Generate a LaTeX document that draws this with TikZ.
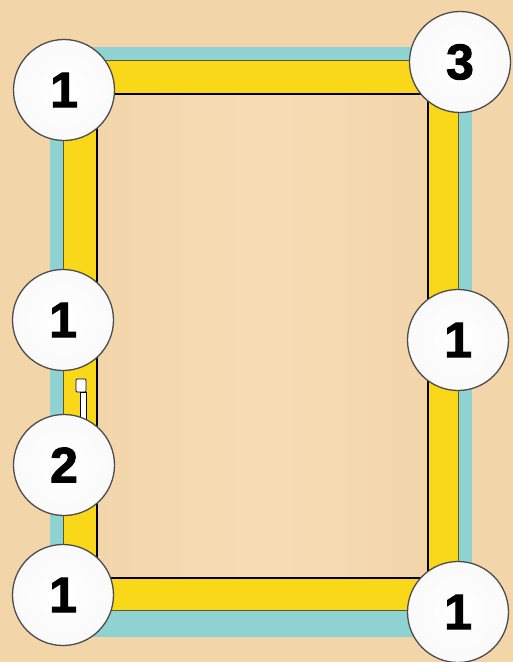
\documentclass[tikz,border=0pt]{standalone}
\usepackage{fontspec}
\setmainfont{Liberation Sans}
\newfontfamily\badgefont[FakeBold=2]{Liberation Sans}
\usepackage{tikz}
\usetikzlibrary{positioning}

\definecolor{peach}{HTML}{F3D5AA}
\definecolor{peachlight}{HTML}{F6DCB5}
\definecolor{framecyan}{HTML}{8ED2D2}
\definecolor{frameyellow}{HTML}{F8D818}

\begin{document}
\begin{tikzpicture}[
    x=1pt, y=-1pt,
    badge/.style={circle, draw=gray!60!black, line width=1.3pt, inner color=white, outer color=gray!4,
        minimum size=101pt, inner sep=0pt, font=\fontsize{50}{50}\badgefont\bfseries},
    edge/.style={draw=black, line width=1.6pt},
    seam/.style={draw=olive!55!black, line width=0.7pt}
]

% Background
\fill[peach] (0,0) rectangle (513,662);
\useasboundingbox (0,0) rectangle (513,662);

% Frame
\fill[framecyan] (50,47) rectangle (472,637);
\path[fill=frameyellow, seam] (63,60) rectangle (458,610);
\path[left color=peach, right color=peach, middle color=peachlight, edge] (97,94) rectangle (428,578);

% Handle
\path[fill=white, draw=blue!30!black, line width=0.8pt, rounded corners=1pt] (76,379) rectangle (86,392);
\path[fill=white, draw=black, line width=0.8pt] (80,392) rectangle (86,420);

% Nodes
\node[badge] (tl) at (64,90) {1};
\node[badge] (tr) at (460,62) {3};
\node[badge] (ml) at (63,320) {1};
\node[badge] (mr) at (458,340) {1};
\node[badge] (hl) at (64,465) {2};
\node[badge] (bl) at (63,595) {1};
\node[badge] (br) at (458,612) {1};

\end{tikzpicture}
\end{document}
